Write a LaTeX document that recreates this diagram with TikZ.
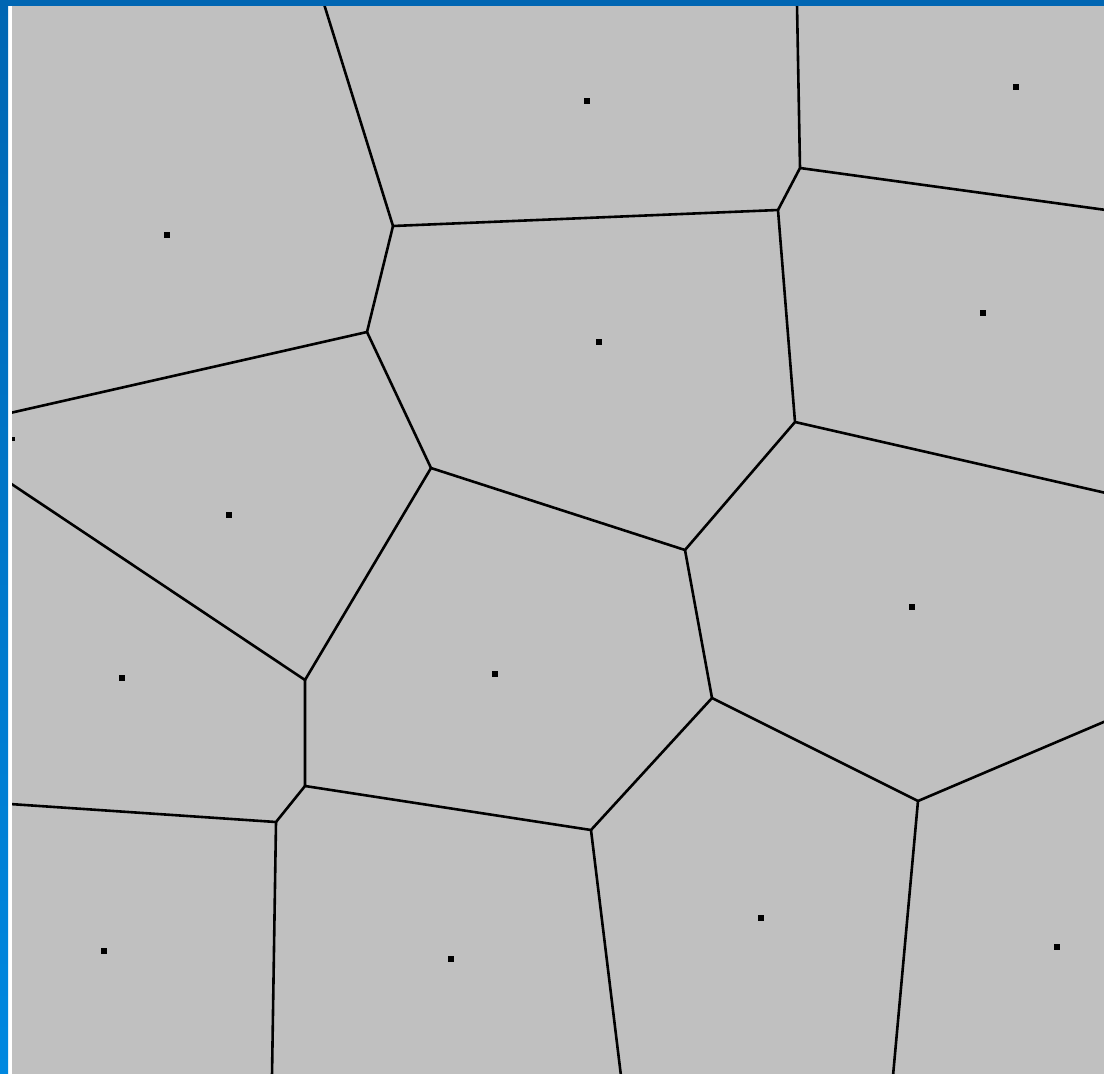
\documentclass[tikz,border=0pt]{standalone}
\usetikzlibrary{positioning}
\definecolor{cellgrey}{RGB}{192,192,192}
\definecolor{frametop}{RGB}{0,102,179}
\definecolor{framebot}{RGB}{0,136,224}

\begin{document}
\begin{tikzpicture}[x=1pt,y=-1pt,line width=2.6pt]
\useasboundingbox (0,0) rectangle (1104,1074);
% frame
\fill[white] (0,0) rectangle (1104,1074);
\shade[top color=frametop,bottom color=framebot] (0,0) rectangle (8,1074);
\fill[frametop] (0,0) rectangle (1104,6);
\fill[cellgrey] (12,6) rectangle (1104,1074);
% vertices
\coordinate (vb) at (393,226);
\coordinate (vc) at (778,210);
\coordinate (ve) at (800,168);
\coordinate (vd) at (367,332);
\coordinate (vg) at (431,468);
\coordinate (vf) at (795,422);
\coordinate (vh) at (685,550);
\coordinate (vj) at (712,698);
\coordinate (vk) at (918,801);
\coordinate (vi) at (305,680);
\coordinate (vm) at (305,786);
\coordinate (vl) at (591,830);
\coordinate (vn) at (276,822);
\begin{scope}
\clip (12,6) rectangle (1104,1074);
\draw (324,4) -- (vb) -- (vc) -- (ve) -- (797,4);
\draw (ve) -- (1106,210);
\draw (vb) -- (vd) -- (10,413);
\draw (vd) -- (vg) -- (vh) -- (vf) -- (vc);
\draw (vf) -- (1106,493);
\draw (vh) -- (vj) -- (vk) -- (1106,721);
\draw (vk) -- (893,1076);
\draw (vg) -- (vi) -- (10,483);
\draw (vi) -- (vm) -- (vl) -- (vj);
\draw (vl) -- (621,1076);
\draw (vm) -- (vn) -- (10,804);
\draw (vn) -- (272,1076);
\end{scope}
% sites
\foreach \sx/\sy in {587/101,1016/87,167/235,599/342,983/313,229/515,912/607,
  122/678,495/674,761/918,104/951,451/959,1057/947}
  \fill (\sx-3,\sy-3) rectangle (\sx+3,\sy+3);
\fill (12,437) rectangle (15,441);
\end{tikzpicture}
\end{document}
